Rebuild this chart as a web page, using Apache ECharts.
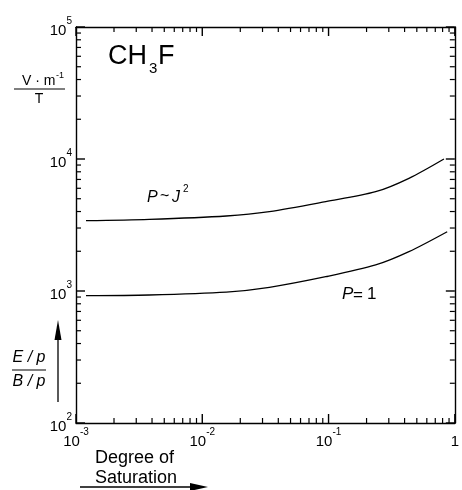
<!DOCTYPE html>
<html>
<head>
<meta charset="utf-8">
<script src="https://cdn.jsdelivr.net/npm/echarts@6/dist/echarts.min.js"></script>
<style>html,body{margin:0;padding:0;background:#fff;}#c{width:462px;height:490px;}#dbg{position:absolute;left:230px;top:440px;width:230px;font:9px monospace;color:#c00;white-space:pre-wrap;}</style>
</head>
<body>
<div id="c"></div>
<div id="dbg"></div>
<script>
const msgs = [];
const report = m => { msgs.push(m); document.getElementById('dbg').textContent = msgs.join('\n'); };
window.onerror = (m) => { report('ERR ' + m); };

// ---- data ----
const satUpper = [0.0012, 0.0038, 0.0155, 0.034, 0.095, 0.236, 0.433, 0.82];
const valUpper = [3410, 3490, 3700, 3990, 4750, 5650, 7140, 10000];
const satLower = [0.0012, 0.0038, 0.0155, 0.034, 0.095, 0.236, 0.433, 0.87];
const valLower = [921, 933, 981, 1066, 1283, 1574, 1985, 2810];
const xMajor = [0.001, 0.01, 0.1, 1];
const yMajor = [100, 1000, 10000, 100000];
const xMinor = [];
[-3, -2, -1].forEach(d => { for (let k = 2; k <= 9; k++) xMinor.push(k * Math.pow(10, d)); });
const yMinor = [];
[2, 3, 4].forEach(d => { for (let k = 2; k <= 9; k++) yMinor.push(k * Math.pow(10, d)); });

const X_MIN = 0.001, X_MAX = 1, Y_MIN = 100, Y_MAX = 100000;
const FONT = '"Liberation Sans", Arial, sans-serif';

function powLabel(v) {
  const e = Math.round(Math.log10(v));
  if (e === 0) return '{b|1}';
  return '{b|10}{s|' + (e < 0 ? '-' + (-e) : e) + '}';
}
const richLab = {
  b: {fontSize: 15, fontFamily: FONT, color: '#000', lineHeight: 22, verticalAlign: 'bottom'},
  s: {fontSize: 10, fontFamily: FONT, color: '#000', lineHeight: 10, verticalAlign: 'top'}
};
function mkAxis(isX, pos, labels) {
  return {
    type: 'log', min: isX ? X_MIN : Y_MIN, max: isX ? X_MAX : Y_MAX, position: pos,
    axisLine: {show: true, lineStyle: {color: '#000', width: 1.4}, onZero: false},
    axisTick: {show: false},
    splitLine: {show: false},
    axisLabel: labels ? {show: true, margin: 4, customValues: isX ? xMajor : yMajor, formatter: powLabel, rich: richLab} : {show: false}
  };
}

// tick definitions (value + major flag)
const xTickDefs = xMajor.map(v => ({v: v, major: true})).concat(xMinor.map(v => ({v: v, major: false})));
const yTickDefs = yMajor.map(v => ({v: v, major: true})).concat(yMinor.map(v => ({v: v, major: false})));
const tLen = t => (t.major ? 9 : 5);
const tW = t => (t.major ? 1.4 : 1.2);

function xTickRender(params, api) {
  const t = xTickDefs[params.dataIndex];
  const pb = api.coord([t.v, Y_MIN]), pt = api.coord([t.v, Y_MAX]);
  const st = {stroke: '#000', lineWidth: tW(t), fill: null};
  return {type: 'group', children: [
    {type: 'line', shape: {x1: pb[0], y1: pb[1], x2: pb[0], y2: pb[1] - tLen(t)}, style: st},
    {type: 'line', shape: {x1: pt[0], y1: pt[1], x2: pt[0], y2: pt[1] + tLen(t)}, style: st}
  ]};
}
function yTickRender(params, api) {
  const t = yTickDefs[params.dataIndex];
  const pl = api.coord([X_MIN, t.v]), pr = api.coord([X_MAX, t.v]);
  const st = {stroke: '#000', lineWidth: tW(t), fill: null};
  return {type: 'group', children: [
    {type: 'line', shape: {x1: pl[0], y1: pl[1], x2: pl[0] + tLen(t), y2: pl[1]}, style: st},
    {type: 'line', shape: {x1: pr[0], y1: pr[1], x2: pr[0] - tLen(t), y2: pr[1]}, style: st}
  ]};
}

const txt = (x, y, text, size, opts) => ({
  type: 'text', x: x, y: y,
  style: Object.assign({text: text, font: size + 'px ' + FONT, fill: '#000', verticalAlign: 'middle', align: 'left'}, opts || {})
});
const itxt = (x, y, text, size, opts) => txt(x, y, text, size, Object.assign({font: 'italic ' + size + 'px ' + FONT}, opts || {}));

const baseGraphic = [
  txt(108, 57, 'CH', 27),
  txt(149, 69, '3', 15),
  txt(158, 57, 'F', 27),
  txt(22, 81, 'V · m', 14),
  txt(56, 76, '-1', 9),
  {type: 'line', shape: {x1: 14, y1: 89, x2: 65, y2: 89}, style: {stroke: '#000', lineWidth: 1.2}},
  txt(39, 99, 'T', 14, {align: 'center'}),
  itxt(147, 198, 'P', 16),
  txt(160, 197, '~', 16),
  itxt(172, 198, 'J', 16),
  txt(183, 189, '2', 10),
  itxt(342, 294, 'P', 17),
  txt(353, 295, '=', 17),
  txt(367, 294, '1', 17),
  itxt(29, 358, 'E / p', 16, {align: 'center'}),
  {type: 'line', shape: {x1: 12, y1: 370, x2: 46, y2: 370}, style: {stroke: '#000', lineWidth: 1.2}},
  itxt(29, 382, 'B / p', 16, {align: 'center'}),
  {type: 'line', shape: {x1: 58, y1: 402, x2: 58, y2: 336}, style: {stroke: '#000', lineWidth: 1.3}},
  {type: 'polygon', shape: {points: [[58, 320], [54.5, 340], [61.5, 340]]}, style: {fill: '#000'}},
  txt(95, 458, 'Degree of', 18),
  txt(95, 478, 'Saturation', 18),
  {type: 'line', shape: {x1: 80, y1: 487, x2: 194, y2: 487}, style: {stroke: '#000', lineWidth: 1.3}},
  {type: 'polygon', shape: {points: [[208, 487], [190, 483], [190, 491]]}, style: {fill: '#000'}}
];

let chart;
try {
  chart = echarts.init(document.getElementById('c'));
  chart.setOption({
    animation: false,
    grid: {left: 76, top: 27, right: 6, bottom: 67},
    xAxis: [mkAxis(true, 'bottom', true), mkAxis(true, 'top', false)],
    yAxis: [mkAxis(false, 'left', true), mkAxis(false, 'right', false)],
    series: [
      {type: 'line', smooth: 0.3, symbol: 'none', lineStyle: {color: '#000', width: 1.3},
       data: satUpper.map((x, i) => [x, valUpper[i]])},
      {type: 'line', smooth: 0.3, symbol: 'none', lineStyle: {color: '#000', width: 1.3},
       data: satLower.map((x, i) => [x, valLower[i]])},
      {type: 'custom', clip: false, renderItem: xTickRender, data: xTickDefs.map(t => [t.v, Y_MIN])},
      {type: 'custom', clip: false, renderItem: yTickRender, data: yTickDefs.map(t => [X_MIN, t.v])}
    ],
    graphic: baseGraphic
  });
} catch (e) { report('setOption: ' + e.message); }

try {
  const p = chart.convertToPixel({gridIndex: 0}, [0.01, 1000]);
  if (!p || isNaN(p[0]) || isNaN(p[1])) report('convertToPixel bad: ' + JSON.stringify(p));
} catch (e) { report('convert: ' + e.message); }
</script>
</body>
</html>
